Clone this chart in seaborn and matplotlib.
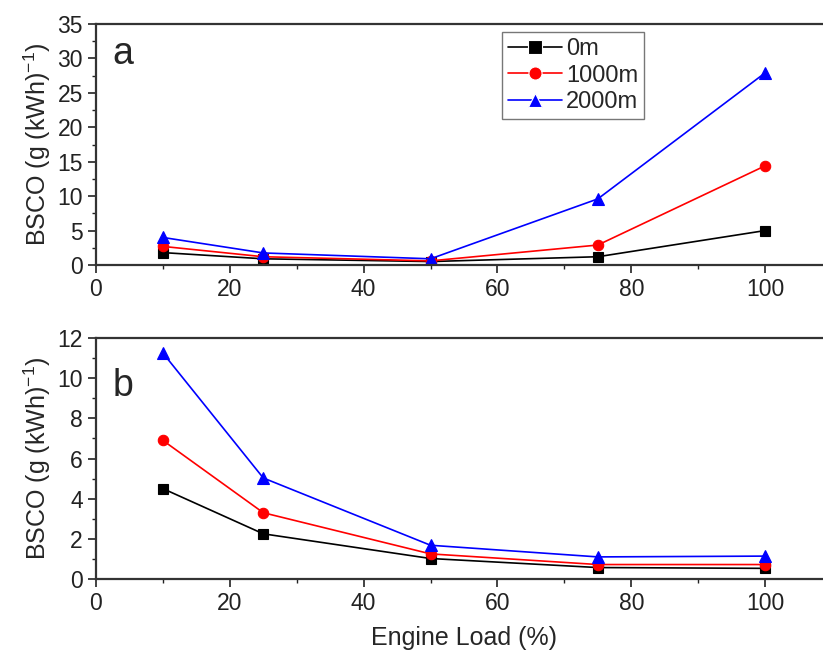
import numpy as np
import pandas as pd
import matplotlib
matplotlib.use("Agg")
import matplotlib.pyplot as plt
from matplotlib.ticker import MultipleLocator
import seaborn as sns

# Engine load points (%)
engine_load = [10, 25, 50, 75, 100]
altitudes = ["0m", "1000m", "2000m"]

# Panel a: BSCO, g (kWh)^-1
bsco_a_0m = [1.8, 0.9, 0.5, 1.2, 5.0]
bsco_a_1000m = [2.7, 1.2, 0.6, 2.9, 14.4]
bsco_a_2000m = [4.0, 1.75, 0.9, 9.6, 27.9]

# Panel b: BSCO, g (kWh)^-1
bsco_b_0m = [4.5, 2.25, 1.02, 0.57, 0.53]
bsco_b_1000m = [6.9, 3.3, 1.25, 0.72, 0.72]
bsco_b_2000m = [11.25, 5.03, 1.68, 1.1, 1.14]

sns.set_style("ticks")
plt.rcParams["font.family"] = ["Liberation Sans", "DejaVu Sans"]
plt.rcParams["mathtext.fontset"] = "custom"
plt.rcParams["mathtext.rm"] = "Liberation Sans"
plt.rcParams["mathtext.it"] = "Liberation Sans"


def to_frame(series):
    rows = []
    for alt, vals in zip(altitudes, series):
        for x, v in zip(engine_load, vals):
            rows.append({"load": x, "bsco": v, "altitude": alt})
    return pd.DataFrame(rows)


df_a = to_frame([bsco_a_0m, bsco_a_1000m, bsco_a_2000m])
df_b = to_frame([bsco_b_0m, bsco_b_1000m, bsco_b_2000m])

palette = {"0m": "#000000", "1000m": "#ff0000", "2000m": "#0000ff"}
markers = {"0m": "s", "1000m": "o", "2000m": "^"}
msize = {"0m": 6.5, "1000m": 7.5, "2000m": 8}

fig = plt.figure(figsize=(8.23, 6.57), dpi=100)
W, H = 823, 657
left_px, right_px = 96, 832
ax_a = fig.add_axes([left_px / W, 1 - 265 / H, (right_px - left_px) / W, 241 / H])
ax_b = fig.add_axes([left_px / W, 1 - 579 / H, (right_px - left_px) / W, 241 / H])

for ax, df in ((ax_a, df_a), (ax_b, df_b)):
    sns.lineplot(data=df, x="load", y="bsco", hue="altitude", style="altitude",
                 palette=palette, markers=markers, dashes=False,
                 linewidth=1.2, markersize=7, markeredgewidth=0.8,
                 ax=ax, legend=(ax is ax_a))
    for line, alt in zip(ax.get_lines()[:3], altitudes):
        line.set_markersize(msize[alt])
        line.set_markeredgecolor(palette[alt])
    ax.set_xlim(0, 110)
    ax.xaxis.set_major_locator(MultipleLocator(20))
    ax.xaxis.set_minor_locator(MultipleLocator(10))
    ax.tick_params(axis="both", which="major", direction="out", length=6,
                   width=1.2, labelsize=16.5, colors="#222222")
    ax.tick_params(axis="both", which="minor", direction="out", length=3,
                   width=1.0, colors="#222222")
    ax.tick_params(top=False, right=False, which="both")
    for side in ("left", "bottom", "top", "right"):
        ax.spines[side].set_visible(True)
        ax.spines[side].set_linewidth(1.6)
        ax.spines[side].set_color("#333333")
    ax.set_ylabel("BSCO (g (kWh)$^{-1}$)", fontsize=18, labelpad=3)
    ax.set_xlabel("")

ax_a.set_ylim(0, 35)
ax_a.yaxis.set_major_locator(MultipleLocator(5))
ax_a.yaxis.set_minor_locator(MultipleLocator(2.5))
ax_b.set_ylim(0, 12)
ax_b.yaxis.set_major_locator(MultipleLocator(2))
ax_b.yaxis.set_minor_locator(MultipleLocator(1))
ax_b.set_xlabel("Engine Load (%)", fontsize=18, labelpad=8)

ax_a.text(0.022, 0.875, "a", transform=ax_a.transAxes, fontsize=27,
          ha="left", va="center")
ax_b.text(0.022, 0.80, "b", transform=ax_b.transAxes, fontsize=27,
          ha="left", va="center")

handles, labels = ax_a.get_legend_handles_labels()
for h, alt in zip(handles, labels):
    h.set_linewidth(1.2)
leg = ax_a.legend(handles, labels, loc="upper left",
                  bbox_to_anchor=(0.552, 0.967), fontsize=17, frameon=True,
                  fancybox=False, handlelength=2.3, handletextpad=0.15,
                  labelspacing=0.2, borderpad=0.25, borderaxespad=0,
                  markerscale=1.35)
leg.get_frame().set_edgecolor("#555555")
leg.get_frame().set_linewidth(1.0)

fig.savefig("out.png", dpi=100)
